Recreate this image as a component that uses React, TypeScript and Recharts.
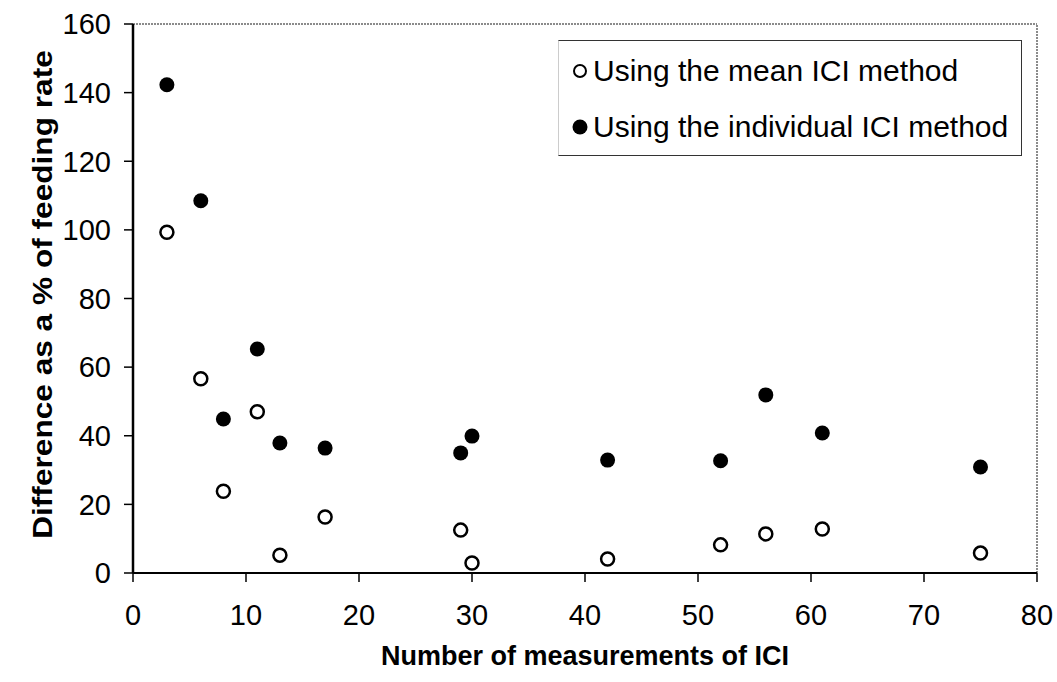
import * as React from 'react';
import { ScatterChart, Scatter, XAxis, YAxis, Legend, ReferenceLine } from 'recharts';

// number of ICI measurements and the difference (% of feeding rate) for each method
const measurements = [3, 6, 8, 11, 13, 17, 29, 30, 42, 52, 56, 61, 75];
const meanMethod = [99.3, 56.6, 23.8, 47, 5.2, 16.3, 12.5, 2.9, 4.1, 8.2, 11.4, 12.8, 5.8];
const individualMethod = [142.3, 108.5, 44.9, 65.3, 37.9, 36.4, 35, 39.9, 32.9, 32.7, 51.9, 40.8, 30.9];

const xTicks = [0, 10, 20, 30, 40, 50, 60, 70, 80];
const yTicks = [0, 20, 40, 60, 80, 100, 120, 140, 160];

const seriesNames = ['Using the mean ICI method', 'Using the individual ICI method'];

const font = '"Liberation Sans", Arial, sans-serif';

const meanData = measurements.map((n, i) => ({ n, v: meanMethod[i] }));
const individualData = measurements.map((n, i) => ({ n, v: individualMethod[i] }));

const OpenDot = (props: any) => (
    <circle cx={props.cx} cy={props.cy} r={6.5} fill="#fff" stroke="#000" strokeWidth={2.5} />
);

const FilledDot = (props: any) => (
    <circle cx={props.cx} cy={props.cy} r={7.5} fill="#000" />
);

const LegendBox = () => (
    <div style={{
        position: 'relative',
        borderTop: '1.5px solid #333',
        borderBottom: '1.5px solid #333',
        borderRight: '1.5px solid #333',
        borderLeft: '1px solid #ccc',
        background: '#fff',
        width: 464,
        height: 116,
        boxSizing: 'border-box',
        fontFamily: font,
        fontSize: 30,
        color: '#000',
    }}>
        {seriesNames.map((name, i) => (
            <div key={name} style={{
                position: 'absolute', left: 13, top: i === 0 ? 12 : 68, height: 36,
                display: 'flex', alignItems: 'center', whiteSpace: 'nowrap',
            }}>
                <svg width={16} height={18} style={{ marginRight: 5 }}>
                    {i === 0
                        ? <circle cx={8} cy={9} r={6} fill="#fff" stroke="#000" strokeWidth={2} />
                        : <circle cx={8} cy={9} r={7.5} fill="#000" />}
                </svg>
                <span>{name}</span>
            </div>
        ))}
    </div>
);

const YTitle = (props: any) => {
    const vb = props.viewBox;
    const x = vb.x + 42;
    const y = vb.y + vb.height / 2 - 4;
    return (
        <text transform={`translate(${x}, ${y}) rotate(-90) scale(1.13, 1)`} x={0} y={0}
            textAnchor="middle" dominantBaseline="central"
            style={{ fontFamily: font, fontSize: 28, fontWeight: 'bold', fill: '#000' }}>
            Difference as a % of feeding rate
        </text>
    );
};

const XTitle = (props: any) => {
    const vb = props.viewBox;
    const x = vb.x + vb.width / 2;
    return (
        <text x={x} y={665} textAnchor="middle"
            style={{ fontFamily: font, fontSize: 27, fontWeight: 'bold', fill: '#000' }}>
            Number of measurements of ICI
        </text>
    );
};

export default function App() {
    return (
        <div style={{ position: 'absolute', left: 0, top: 0, background: '#fff' }}>
            <ScatterChart width={1057} height={682} margin={{ top: 24, right: 20, left: 0, bottom: 0 }}>
                <XAxis
                    type="number"
                    dataKey="n"
                    domain={[0, 80]}
                    ticks={xTicks}
                    height={109}
                    tickSize={9}
                    tickMargin={22}
                    axisLine={{ stroke: '#000', strokeWidth: 2 }}
                    tickLine={{ stroke: '#000', strokeWidth: 1.5 }}
                    tick={{ fill: '#000', fontSize: 29, fontFamily: font }}
                    label={{ content: XTitle }}
                />
                <YAxis
                    type="number"
                    dataKey="v"
                    domain={[0, 160]}
                    ticks={yTicks}
                    width={133}
                    tickSize={9}
                    tickMargin={13}
                    axisLine={{ stroke: '#000', strokeWidth: 2.5 }}
                    tickLine={{ stroke: '#000', strokeWidth: 1.5 }}
                    tick={{ fill: '#000', fontSize: 29, fontFamily: font }}
                    label={{ content: YTitle }}
                />
                <ReferenceLine y={160} stroke="#666" strokeWidth={1.5} strokeDasharray="2 1" />
                <ReferenceLine x={80} stroke="#666" strokeWidth={1.5} strokeDasharray="2 1" />
                <Legend
                    layout="horizontal"
                    verticalAlign="middle"
                    align="center"
                    content={LegendBox}
                    wrapperStyle={{ left: 558, top: 40, width: 464 }}
                />
                <Scatter name={seriesNames[0]} data={meanData} shape={OpenDot} isAnimationActive={false} />
                <Scatter name={seriesNames[1]} data={individualData} shape={FilledDot} isAnimationActive={false} />
            </ScatterChart>
        </div>
    );
}
